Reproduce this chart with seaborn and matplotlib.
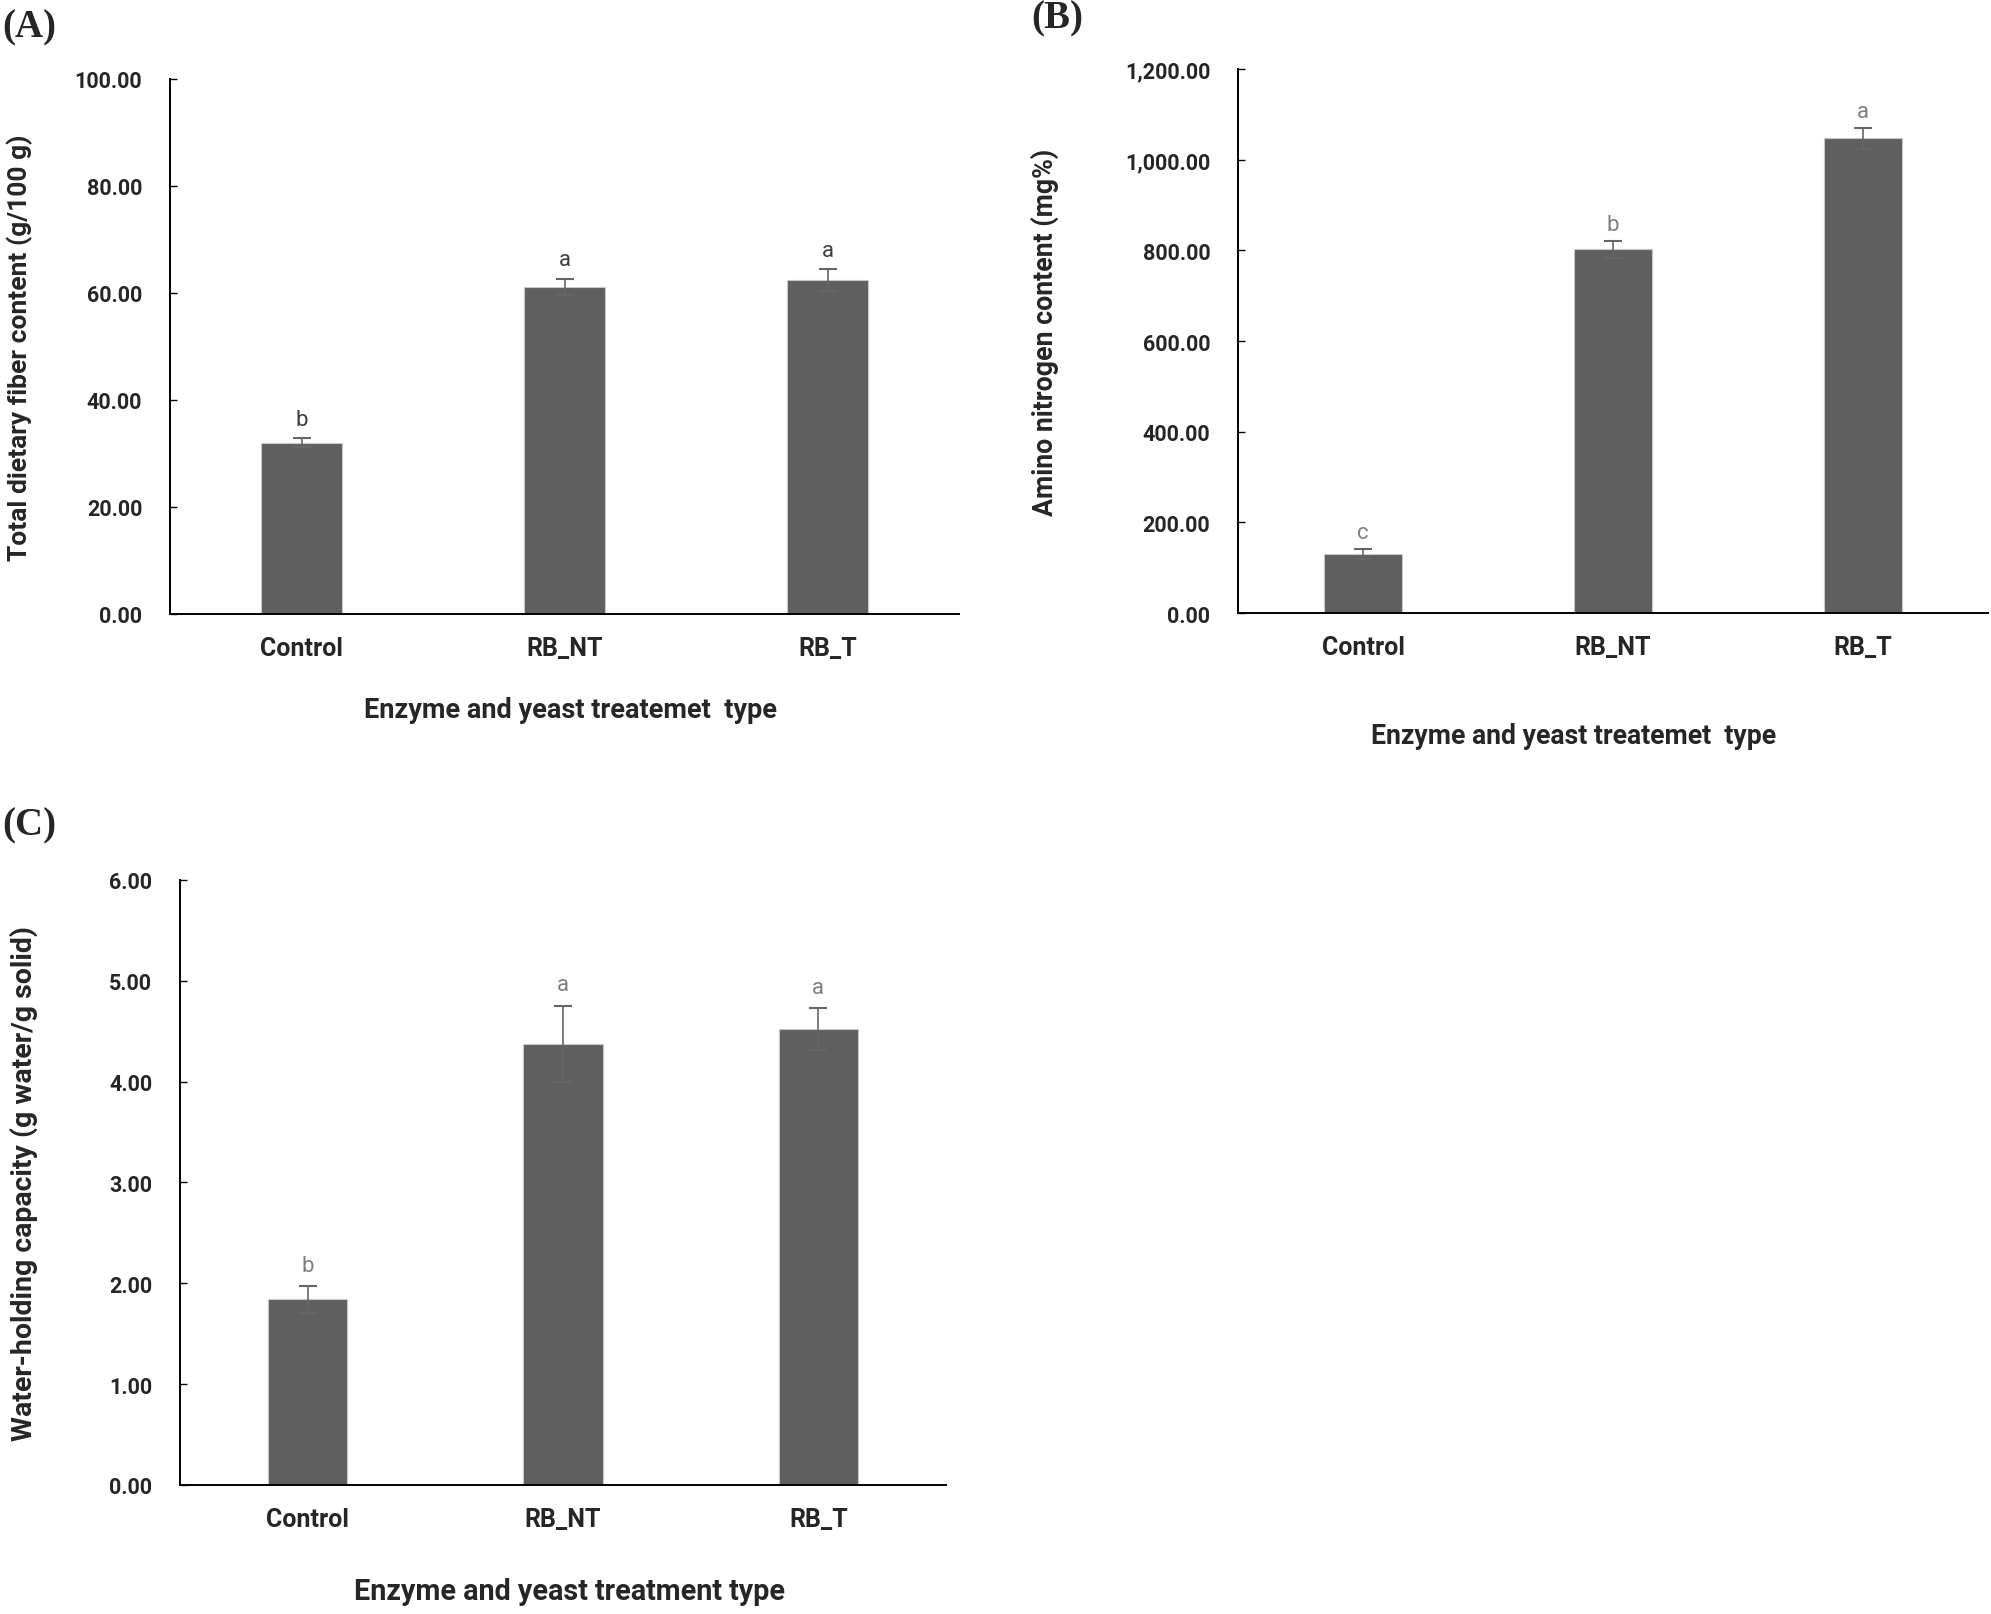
import matplotlib
matplotlib.use("Agg")
import matplotlib.pyplot as plt
import seaborn as sns
import pandas as pd
from matplotlib.ticker import FuncFormatter

sns.set_theme(style="white")
plt.rcParams['font.family'] = ['Roboto', 'DejaVu Sans']

categories = ['Control', 'RB_NT', 'RB_T']

# (A) total dietary fiber
fiber_mean = [32.0, 61.2, 62.4]
fiber_err = [0.8, 1.5, 2.0]
fiber_letters = ['b', 'a', 'a']

# (B) amino nitrogen
amino_mean = [130.5, 802.0, 1047.0]
amino_err = [11.0, 18.0, 23.0]
amino_letters = ['c', 'b', 'a']

# (C) water-holding capacity
whc_mean = [1.84, 4.375, 4.52]
whc_err = [0.134, 0.38, 0.21]
whc_letters = ['b', 'a', 'a']

BAR = '#5f5f5f'

fig = plt.figure(figsize=(19.91, 16.15), dpi=100)


def panel(rect, means, errs, letters, ymax, step, fmt, ylabel, xlabel,
          ylab_xy, xlab_xy, letter_color, letter_off, ylab_size, xlab_size):
    ax = fig.add_axes(rect)
    df = pd.DataFrame({'cat': categories, 'val': means})
    sns.barplot(data=df, x='cat', y='val', color=BAR, saturation=1, width=0.31,
                edgecolor='#c8c8c8', linewidth=0.8, ax=ax)
    xs = range(len(categories))
    ax.errorbar(xs, means, yerr=errs, fmt='none', ecolor='#666666',
                elinewidth=1.2, capsize=6.5, capthick=1.5, zorder=3)
    for x, m, e, t in zip(xs, means, errs, letters):
        ax.annotate(t, (x, m + e), xytext=(0, letter_off), textcoords='offset points',
                    ha='center', va='baseline', fontsize=16, color=letter_color)
    ax.set_xlim(-0.5, 2.5)
    ax.set_ylim(0, ymax)
    ax.set_yticks([i * step for i in range(int(round(ymax / step)) + 1)])
    ax.yaxis.set_major_formatter(FuncFormatter(lambda v, p: fmt.format(v)))
    sns.despine(ax=ax)
    for s in ['left', 'bottom']:
        ax.spines[s].set_linewidth(1.4)
        ax.spines[s].set_color('black')
    ax.tick_params(axis='y', direction='in', length=5, width=1, color='black',
                   pad=20, labelsize=15.5, left=True)
    ax.tick_params(axis='x', length=0, pad=16, labelsize=18)
    for lab in ax.get_xticklabels() + ax.get_yticklabels():
        lab.set_fontweight('bold')
    ax.set_ylabel(ylabel, fontsize=ylab_size, fontweight='bold')
    ax.set_xlabel(xlabel, fontsize=xlab_size, fontweight='bold')
    ax.yaxis.set_label_coords(*ylab_xy)
    ax.xaxis.set_label_coords(*xlab_xy)
    ax.xaxis.label.set_va('center')
    ax.yaxis.label.set_va('center')
    return ax


panel([0.0854, 0.6192, 0.3963, 0.3313], fiber_mean, fiber_err, fiber_letters,
      100, 20, '{:.2f}', 'Total dietary fiber content (g/100 g)',
      'Enzyme and yeast treatemet  type', (-0.19, 0.5), (0.508, -0.178),
      '#404040', 10, 19, 19.5)

panel([0.6218, 0.6198, 0.3767, 0.3368], amino_mean, amino_err, amino_letters,
      1200, 200, '{:,.2f}', 'Amino nitrogen content (mg%)',
      'Enzyme and yeast treatemet  type', (-0.258, 0.517), (0.447, -0.225),
      '#808080', 8, 19.3, 19.2)

panel([0.0904, 0.0799, 0.3847, 0.3746], whc_mean, whc_err, whc_letters,
      6, 1, '{:.2f}', 'Water-holding capacity (g water/g solid)',
      'Enzyme and yeast treatment type', (-0.204, 0.5), (0.509, -0.175),
      '#808080', 11, 20.5, 20.7)

serif = ['Liberation Serif', 'DejaVu Serif']
fig.text(2 / 1991, 1 - 28 / 1615, '(A)', family=serif, fontweight='bold', fontsize=28, va='center')
fig.text(1031 / 1991, 1 - 19 / 1615, '(B)', family=serif, fontweight='bold', fontsize=28, va='center')
fig.text(2 / 1991, 1 - 826 / 1615, '(C)', family=serif, fontweight='bold', fontsize=28, va='center')

fig.savefig('out.png', dpi=100)
